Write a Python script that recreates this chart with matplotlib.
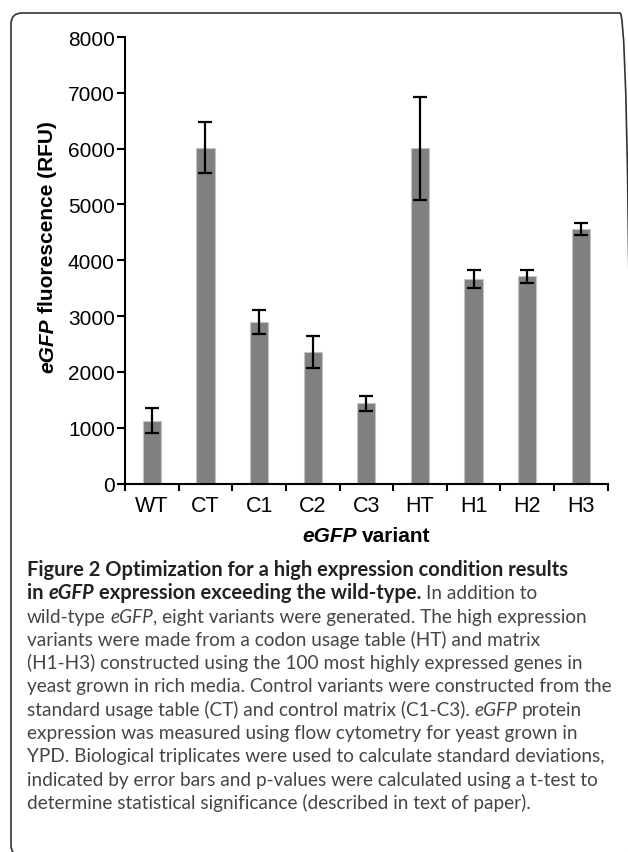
import numpy as np
import matplotlib
matplotlib.use('Agg')
import matplotlib.pyplot as plt
from matplotlib.transforms import IdentityTransform
from matplotlib.patches import FancyBboxPatch

# eGFP fluorescence per variant
variants = ['WT', 'CT', 'C1', 'C2', 'C3', 'HT', 'H1', 'H2', 'H3']
rfu = [1125, 6020, 2895, 2355, 1435, 6005, 3665, 3710, 4560]
rfu_sd = [220, 465, 215, 280, 140, 925, 165, 115, 105]
yticks = [0, 1000, 2000, 3000, 4000, 5000, 6000, 7000, 8000]

# caption, line by line: (text, style) with r/i/b/bi
caption = [
    [("Figure 2 Optimization for a high expression condition results", 'b')],
    [("in ", 'b'), ("eGFP", 'bi'), (" expression exceeding the wild-type.", 'b'), (" In addition to", 'r')],
    [("wild-type ", 'r'), ("eGFP", 'i'), (", eight variants were generated. The high expression", 'r')],
    [("variants were made from a codon usage table (HT) and matrix", 'r')],
    [("(H1-H3) constructed using the 100 most highly expressed genes in", 'r')],
    [("yeast grown in rich media. Control variants were constructed from the", 'r')],
    [("standard usage table (CT) and control matrix (C1-C3). ", 'r'), ("eGFP", 'i'), (" protein", 'r')],
    [("expression was measured using flow cytometry for yeast grown in", 'r')],
    [("YPD. Biological triplicates were used to calculate standard deviations,", 'r')],
    [("indicated by error bars and p-values were calculated using a t-test to", 'r')],
    [("determine statistical significance (described in text of paper).", 'r')],
]

W, H = 628, 853
fig = plt.figure(figsize=(W / 100, H / 100), dpi=100)
r = fig.canvas.get_renderer()

STYLES = {'r': ('normal', 'normal'), 'i': ('normal', 'italic'),
          'b': ('bold', 'normal'), 'bi': ('bold', 'italic')}
COLORS = {'r': '#454545', 'i': '#454545', 'b': '#222222', 'bi': '#222222'}


def advance(s, **kw):
    # width incl. spaces, measured between two bars
    a = fig.text(0, 0, '|' + s + '|', **kw)
    b = fig.text(0, 0, '||', **kw)
    w = a.get_window_extent(r).width - b.get_window_extent(r).width
    a.remove()
    b.remove()
    return w


def runs(x, y, parts, rot=0, draw=True, colors=None, sizes=None, **kw):
    # x, y in image pixels (y from top); text baseline starts there
    pen = 0
    for s, st in parts:
        weight, style = STYLES[st]
        k = dict(kw, weight=weight, style=style)
        if sizes:
            k['fontsize'] = sizes[st]
        core = s.strip()
        lead = len(s) - len(s.lstrip())
        trail = len(s) - len(s.rstrip())
        if lead:
            pen += advance(' ' * lead, **k)
        if draw:
            if rot == 0:
                px, py = x + pen, H - y
            else:
                px, py = x, H - y + pen
            col = colors[st] if colors else 'black'
            fig.text(px, py, core, transform=IdentityTransform(), rotation=rot,
                     rotation_mode='anchor', ha='left', va='baseline', color=col, **k)
        pen += advance(core, **k)
        if trail:
            pen += advance(' ' * trail, **k)
    return pen


# axes placed to match the reference pixel box
x0, x1, ytop, ybot = 125, 607.7, 38, 484.5
ax = fig.add_axes([x0 / W, (H - ybot) / H, (x1 - x0) / W, (ybot - ytop) / H])

pos = np.arange(len(variants))
ax.bar(pos, rfu, width=0.34, color='#808080', edgecolor='#c4c4c4', linewidth=0.8, zorder=2)
ax.errorbar(pos, rfu, yerr=rfu_sd, fmt='none', ecolor='black', elinewidth=1.6,
            capsize=4.8, capthick=1.6, zorder=3)

ax.set_xlim(-0.5, len(variants) - 0.5)
ax.set_ylim(0, 8000)
ax.set_yticks(yticks)
ax.set_xticks(np.arange(len(variants) + 1) - 0.5)
ax.set_xticklabels([])
ax.set_xticks(pos, minor=True)
ax.set_xticklabels(variants, minor=True)

for side in ['top', 'right']:
    ax.spines[side].set_visible(False)
for side in ['left', 'bottom']:
    ax.spines[side].set_linewidth(1.5)

ax.tick_params(axis='y', direction='out', length=5.8, width=1.5, pad=1.5,
               labelsize=15)
ax.tick_params(axis='x', which='major', direction='out', length=5, width=1.5)
ax.tick_params(axis='x', which='minor', length=0, pad=8, labelsize=15.5)
for lab in ax.get_xticklabels(which='both') + ax.get_yticklabels():
    lab.set_family('Liberation Sans')

# axis titles, eGFP in bold italic
chart_font = dict(fontsize=15, family='Liberation Sans')
xlab = [("eGFP", 'bi'), (" variant", 'b')]
wx = runs(0, 0, xlab, draw=False, **chart_font)
runs((x0 + x1) / 2 - wx / 2, 542, xlab, **chart_font)

ylab = [("eGFP", 'bi'), (" fluorescence (RFU)", 'b')]
wy = runs(0, 0, ylab, draw=False, **chart_font)
runs(53, 247 + wy / 2, ylab, rot=90, **chart_font)

# caption below the chart, sized so the longest line fits
cap_font = dict(fontsize=11, family='Lato')
reg = 11 * 583 / runs(0, 0, caption[5], draw=False, **cap_font)
bold = reg * 1.06
cap_sizes = {'r': reg, 'i': reg, 'b': bold, 'bi': bold}
for i, line in enumerate(caption):
    runs(26.7, 576 + i * 23.3, line, colors=COLORS, sizes=cap_sizes, **cap_font)

# rounded frame round the whole figure
frame = FancyBboxPatch((11, -4), 620, H - 14 + 4, boxstyle='round,pad=0,rounding_size=11',
                       transform=IdentityTransform(), facecolor='none',
                       edgecolor='#333333', linewidth=1.2)
fig.add_artist(frame)

plt.savefig('out.png', dpi=100)
